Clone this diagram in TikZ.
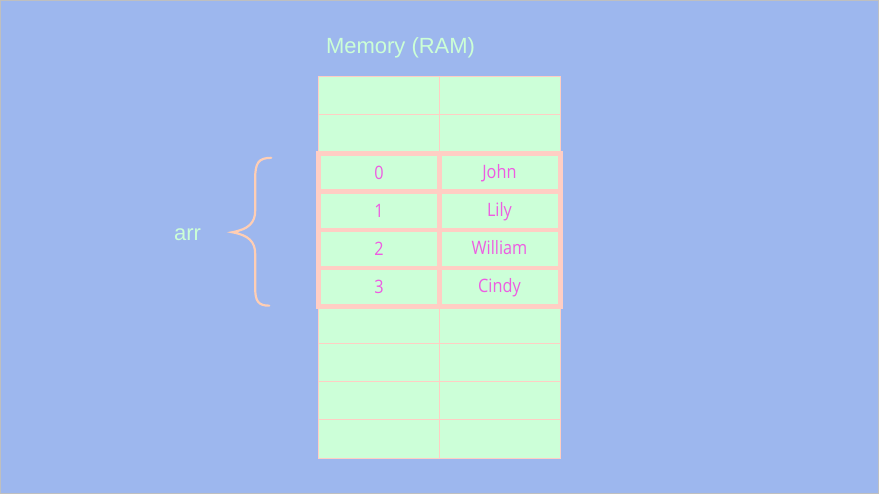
\documentclass[tikz,border=0pt]{standalone}
\usepackage{fontspec}
\setmainfont{Liberation Sans}
\newfontfamily\cellfont[FakeStretch=0.88]{Open Sans}
\definecolor{bgc}{RGB}{157,183,238}
\definecolor{cellc}{RGB}{204,255,216}
\definecolor{edgec}{RGB}{255,206,196}
\definecolor{txtc}{RGB}{238,92,226}
\definecolor{titlec}{RGB}{204,255,214}
\definecolor{bracec}{RGB}{255,206,180}
\begin{document}
\begin{tikzpicture}[x=1pt,y=-1pt,
  cellbox/.style={draw=edgec,fill=cellc,line width=0.8pt},
  hicell/.style={draw=edgec,line width=4.7pt,inner sep=0pt},
  celltext/.style={font=\cellfont\fontsize{18.5}{20}\selectfont,text=txtc,anchor=base,inner sep=0pt},
  titletext/.style={font=\fontsize{22}{26}\selectfont,text=titlec,anchor=base,inner sep=0pt}]
\path[fill=bgc,draw=black!25,line width=1pt] (0,0) rectangle (879,494);
\useasboundingbox (0,0) rectangle (879,494);
% plain grid
\foreach \i in {0,...,9}{
  \pgfmathsetmacro{\ya}{76+38.2*\i}
  \pgfmathsetmacro{\yb}{76+38.2*(\i+1)}
  \path[cellbox] (318.5,\ya) rectangle (439.5,\yb);
  \path[cellbox] (439.5,\ya) rectangle (560.5,\yb);
}
% highlighted cells
\foreach \i/\n/\v in {0/0/John,1/1/Lily,2/2/William,3/3/Cindy}{
  \pgfmathsetmacro{\ya}{153.3+38.2*\i}
  \pgfmathsetmacro{\yb}{153.3+38.2*(\i+1)}
  \pgfmathsetmacro{\ym}{153.3+38.2*(\i+0.5)}
  \path[hicell] (318.5,\ya) rectangle (439.4,\yb);
  \path[hicell] (439.4,\ya) rectangle (560.3,\yb);
  \node[celltext] (k\i) at (379,\ym+6.8) {\n};
  \node[celltext] (v\i) at (499.5,\ym+5.8) {\v};
}
\node[titletext] (title) at (400.5,53.3) {Memory (RAM)};
\node[titletext] (arr) at (187.3,240) {arr};
% brace
\draw[bracec,line width=2.2pt,line cap=round]
  (271,157.5) .. controls (258,157.5) and (255,163) .. (255,178)
  -- (255,210) .. controls (255,223) and (248,229) .. (232,232)
  .. controls (248,235) and (255,241) .. (255,254)
  -- (255,288) .. controls (255,301) and (258,305.5) .. (269,305.5);
\end{tikzpicture}
\end{document}
